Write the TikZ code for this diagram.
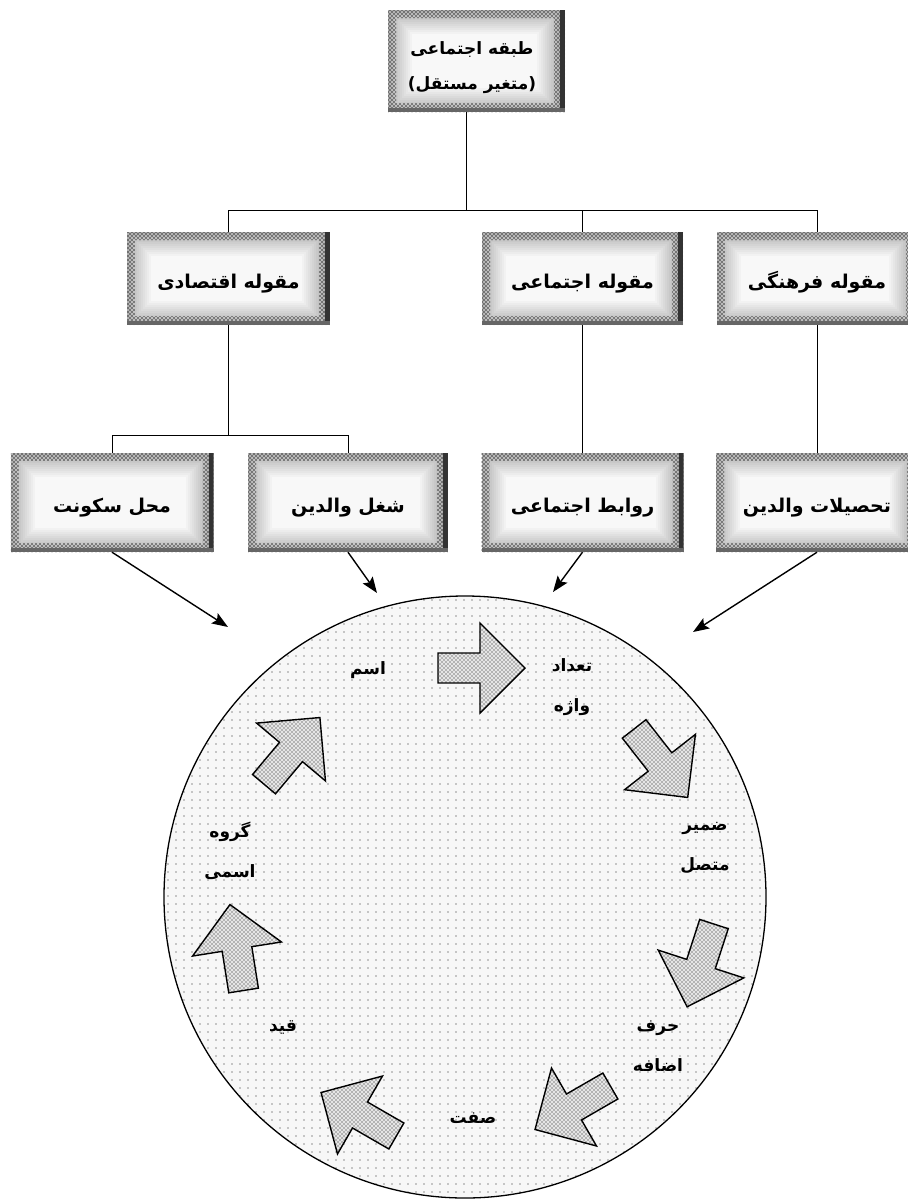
\documentclass[tikz,border=0pt]{standalone}
\usepackage{fontspec}
\usetikzlibrary{arrows.meta,patterns,calc}
\newfontfamily\fa[Script=Arabic]{DejaVu Sans}
\TeXXeTstate=1
\newcommand{\fr}[1]{{\fa\beginR #1\endR}}
\pgfdeclarepatternformonly{sdots}{\pgfpoint{-1pt}{-1pt}}{\pgfpoint{1pt}{1pt}}{\pgfpoint{8pt}{8pt}}{\pgfpathcircle{\pgfpointorigin}{0.85pt}\pgfusepath{fill}}
\pgfdeclarepatternformonly{hdots}{\pgfpoint{-1pt}{-1pt}}{\pgfpoint{3pt}{3pt}}{\pgfpoint{4pt}{4pt}}{\pgfpathcircle{\pgfpointorigin}{0.9pt}\pgfusepath{fill}\pgfpathcircle{\pgfpoint{2pt}{2pt}}{0.9pt}\pgfusepath{fill}}
\tikzset{
  hbox/.style={inner sep=0pt, align=center, font=\fontsize{19}{36}\selectfont\bfseries,
    text height=22pt, text depth=2pt,
    path picture={
      \foreach \i in {0,...,12}{
        \pgfmathsetmacro{\d}{2*\i}
        \pgfmathsetmacro{\e}{2*\i+4}
        \pgfmathsetmacro{\c}{62-4.7*\i}
        \fill[gray!\c] ([shift={(\d pt,\d pt)}]path picture bounding box.south west) rectangle ([shift={(-\e pt,-\d pt)}]path picture bounding box.north east);
      }
      \fill[pattern=hdots, pattern color=black!80, even odd rule]
        (path picture bounding box.south west) rectangle (path picture bounding box.north east)
        ([shift={(8pt,9pt)}]path picture bounding box.south west) rectangle ([shift={(-11pt,-8pt)}]path picture bounding box.north east);
      \fill[black!80] ([xshift=-5pt]path picture bounding box.north east) rectangle (path picture bounding box.south east);
      \fill[black!60] (path picture bounding box.south west) rectangle ([yshift=4pt]path picture bounding box.south east);
    }},
  tline/.style={line width=0.9pt},
  conn/.style={line width=1.4pt, -{Stealth[length=16pt,width=12pt,inset=3pt]}},
  ctext/.style={inner sep=0pt, align=center, font=\fontsize{17}{40}\selectfont\bfseries},
  cyclearrow/.pic={
    \path[preaction={fill=gray!20}, pattern=hdots, pattern color=black!50, draw=black, line width=1.4pt, line join=miter]
      (-42pt,-15pt) -- (0pt,-15pt) -- (0pt,-45pt) -- (45pt,0pt) -- (0pt,45pt) -- (0pt,15pt) -- (-42pt,15pt) -- cycle;
  }
}
\begin{document}
\begin{tikzpicture}[x=1pt,y=-1pt]
\useasboundingbox (0,0) rectangle (908,1200);
\fill[white] (0,0) rectangle (908,1200);

% top box
\node[hbox, minimum width=177pt, minimum height=102pt] (top) at (476.5,61) {};
\node[inner sep=0pt, align=center, font=\fontsize{17}{35}\selectfont\bfseries] (toplabel) at (472,68) {\fr{طبقه اجتماعی}\\\fr{(متغیر مستقل)}};

% middle row
\node[hbox, minimum width=203pt, minimum height=93pt] (econ) at (228.5,278.5) {\fr{مقوله اقتصادی}};
\node[hbox, minimum width=201pt, minimum height=93pt] (soc) at (582.5,278.5) {\fr{مقوله اجتماعی}};
\node[hbox, minimum width=200pt, minimum height=93pt] (cult) at (817,278.5) {\fr{مقوله فرهنگی}};

% bottom row
\node[hbox, minimum width=203pt, minimum height=99pt] (b1) at (112,502.5) {\fr{محل سکونت}};
\node[hbox, minimum width=200pt, minimum height=99pt] (b2) at (348,502.5) {\fr{شغل والدین}};
\node[hbox, minimum width=202pt, minimum height=99pt] (b3) at (582.5,502.5) {\fr{روابط اجتماعی}};
\node[hbox, minimum width=202pt, minimum height=99pt] (b4) at (817,502.5) {\fr{تحصیلات والدین}};

% tree connectors
\coordinate (tj) at (466,210);
\coordinate (ej) at (228.5,435);
\draw[tline] (top.south -| tj) -- (tj);
\draw[tline] (econ.north |- tj) -- (cult.north |- tj);
\draw[tline] (econ.north |- tj) -- (econ.north);
\draw[tline] (soc.north |- tj) -- (soc.north);
\draw[tline] (cult.north |- tj) -- (cult.north);
\draw[tline] (econ.south) -- (ej);
\draw[tline] (b1.north |- ej) -- (b2.north |- ej);
\draw[tline] (b1.north |- ej) -- (b1.north);
\draw[tline] (b2.north |- ej) -- (b2.north);
\draw[tline] (soc.south) -- (b3.north);
\draw[tline] (cult.south) -- (b4.north);

% circle
\node[circle, draw, line width=1.3pt, minimum size=602pt, inner sep=0pt,
      preaction={fill=gray!6}, pattern=sdots, pattern color=gray!85] (cyc) at (465,897) {};

% arrows from boxes to circle
\coordinate (e1) at (228,627);
\coordinate (e2) at (377,593);
\coordinate (e3) at (553,592);
\coordinate (e4) at (693,632);
\draw[conn] (b1.south) -- (e1);
\draw[conn] (b2.south) -- (e2);
\draw[conn] (b3.south) -- (e3);
\draw[conn] (b4.south) -- (e4);

% cycle arrows
\pic[rotate=0] at (480,668) {cyclearrow};
\pic[rotate=-52] at (660,762) {cyclearrow};
\pic[rotate=-108] at (701,964) {cyclearrow};
\pic[rotate=-150] at (574,1107) {cyclearrow};
\pic[rotate=150] at (360,1115) {cyclearrow};
\pic[rotate=99] at (237,949) {cyclearrow};
\pic[rotate=50] at (291,752) {cyclearrow};

% cycle texts
\node[ctext] (t1) at (368,670) {\fr{اسم}};
\node[ctext] (t2) at (572,687) {\fr{تعداد}\\\fr{واژه}};
\node[ctext] (t3) at (705,848) {\fr{ضمیر}\\\fr{متصل}};
\node[ctext] (t4) at (658,1046) {\fr{حرف}\\\fr{اضافه}};
\node[ctext] (t5) at (473,1118) {\fr{صفت}};
\node[ctext] (t6) at (283,1028) {\fr{قید}};
\node[ctext] (t7) at (230,851) {\fr{گروه}\\\fr{اسمی}};
\end{tikzpicture}
\end{document}
